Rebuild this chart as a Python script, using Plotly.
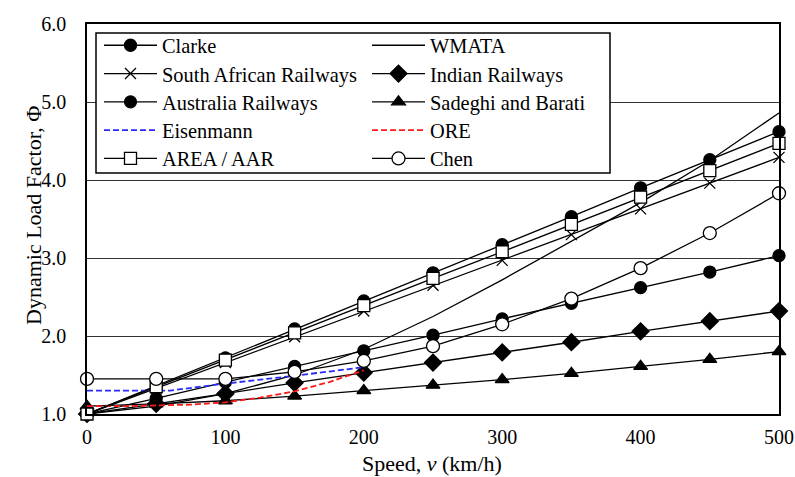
import plotly.graph_objects as go

# Speeds (km/h) at which the design formulas are evaluated
speed = [0, 50, 100, 150, 200, 250, 300, 350, 400, 450, 500]

clarke = [1.00, 1.36, 1.72, 2.09, 2.45, 2.81, 3.17, 3.53, 3.90, 4.26, 4.62]
wmata = [1.00, 1.10, 1.26, 1.50, 1.83, 2.25, 2.72, 3.21, 3.71, 4.25, 4.86]
south_african = [1.00, 1.33, 1.66, 1.99, 2.32, 2.65, 2.97, 3.30, 3.63, 3.96, 4.29]
indian = [1.00, 1.13, 1.26, 1.40, 1.53, 1.66, 1.79, 1.92, 2.06, 2.19, 2.32]
australia = [1.00, 1.20, 1.41, 1.61, 1.81, 2.01, 2.22, 2.42, 2.62, 2.82, 3.03]
sadeghi = [1.10, 1.13, 1.17, 1.23, 1.30, 1.37, 1.44, 1.52, 1.61, 1.70, 1.80]
area_aar = [1.00, 1.35, 1.69, 2.04, 2.39, 2.74, 3.08, 3.43, 3.78, 4.12, 4.47]
chen = [1.45, 1.45, 1.45, 1.54, 1.68, 1.87, 2.15, 2.48, 2.87, 3.32, 3.83]

eisenmann_speed = [0, 60, 100, 150, 200]
eisenmann = [1.30, 1.30, 1.39, 1.49, 1.60]

ore_speed = [0, 25, 50, 75, 100, 125, 150, 175, 200]
ore = [1.10, 1.10, 1.11, 1.12, 1.15, 1.21, 1.29, 1.41, 1.56]

x_ticks = [0, 100, 200, 300, 400, 500]
y_ticks = [1.0, 2.0, 3.0, 4.0, 5.0, 6.0]

FONT = "Liberation Serif"
BLACK = "black"

# Page geometry of the plotting area (pixels)
W, H = 795, 477
ML, MR, MT, MB = 87, 16, 24, 63
PW, PH = W - ML - MR, H - MT - MB

# Legend key layout: two columns, five rows, row-major order
LEG_COL_X = [99, 367]
LEG_ROW_Y = [45.5, 73.8, 102.1, 130.4, 158.7]

fig = go.Figure()
legends = {}


def px_x(p):
    return (p - ML) / PW


def px_y(p):
    return 1 - (p - MT) / PH


def add(idx, name, x, y, symbol=None, fill=BLACK, size=12,
        dash="solid", color=BLACK, width=1.3):
    marker = None
    mode = "lines"
    if symbol is not None:
        mode = "lines+markers"
        marker = dict(symbol=symbol, size=size, color=fill,
                      line=dict(color=BLACK, width=1.3))
    key = "legend" if idx == 0 else f"legend{idx + 1}"
    col, row = idx % 2, idx // 2
    legends[key] = dict(
        x=px_x(LEG_COL_X[col]), y=px_y(LEG_ROW_Y[row]),
        xanchor="left", yanchor="middle",
        font=dict(family=FONT, size=20.4, color=BLACK),
        bgcolor="rgba(0,0,0,0)", borderwidth=0,
        itemwidth=53, itemclick=False, itemdoubleclick=False,
    )
    fig.add_trace(go.Scatter(
        x=x, y=y, name=name, mode=mode, marker=marker,
        line=dict(color=color, width=width, dash=dash),
        legend=key, cliponaxis=False,
    ))


add(0, "Clarke", speed, clarke, "circle")
add(1, "WMATA", speed, wmata)
add(2, "South African Railways", speed, south_african, "x-thin", size=11)
add(3, "Indian Railways", speed, indian, "diamond", size=13)
add(4, "Australia Railways", speed, australia, "circle")
add(5, "Sadeghi and Barati", speed, sadeghi, "triangle-up", size=12)
add(6, "Eisenmann", eisenmann_speed, eisenmann,
    dash="6px,3px", color="#2a2aff", width=1.8)
add(7, "ORE", ore_speed, ore, dash="6px,3px", color="#ff1a1a", width=1.8)
add(8, "AREA / AAR", speed, area_aar, "square", fill="white", size=12)
add(9, "Chen", speed, chen, "circle", fill="white", size=13)

fig.update_layout(
    width=W,
    height=H,
    margin=dict(l=ML, r=MR, t=MT, b=MB, autoexpand=False),
    paper_bgcolor="white",
    plot_bgcolor="white",
    font=dict(family=FONT, size=20, color=BLACK),
    showlegend=True,
    shapes=[dict(
        type="rect", xref="paper", yref="paper",
        x0=px_x(96), x1=px_x(610), y0=px_y(173), y1=px_y(33),
        line=dict(color=BLACK, width=1.5),
        fillcolor="white", layer="above",
    )],
    annotations=[
        dict(text="Dynamic Load Factor, Φ", textangle=-90,
             xref="paper", yref="paper", x=px_x(33), y=px_y(216),
             xanchor="center", yanchor="middle", showarrow=False,
             font=dict(family=FONT, size=22, color=BLACK)),
        dict(text="Speed, <i>v</i> (km/h)",
             xref="paper", yref="paper", x=px_x(432), y=px_y(463),
             xanchor="center", yanchor="middle", showarrow=False,
             font=dict(family=FONT, size=22, color=BLACK)),
    ],
    xaxis=dict(
        range=[0, 500], tickvals=x_ticks,
        ticktext=[str(v) for v in x_ticks],
        showgrid=False, zeroline=False, automargin=False,
        showline=True, linecolor=BLACK, linewidth=1.5, mirror=True,
        ticks="outside", ticklen=4, tickcolor="rgba(0,0,0,0)",
        tickfont=dict(family=FONT, size=20),
    ),
    yaxis=dict(
        range=[1, 6], tickvals=y_ticks,
        ticktext=[f"{v:.1f}" for v in y_ticks],
        showgrid=True, gridcolor="#333333", gridwidth=1.2,
        zeroline=False, automargin=False,
        showline=True, linecolor=BLACK, linewidth=1.5, mirror=True,
        ticks="outside", ticklen=15, tickcolor="rgba(0,0,0,0)",
        tickfont=dict(family=FONT, size=20),
    ),
)
fig.update_layout(**legends)

fig.write_html("out.html")
